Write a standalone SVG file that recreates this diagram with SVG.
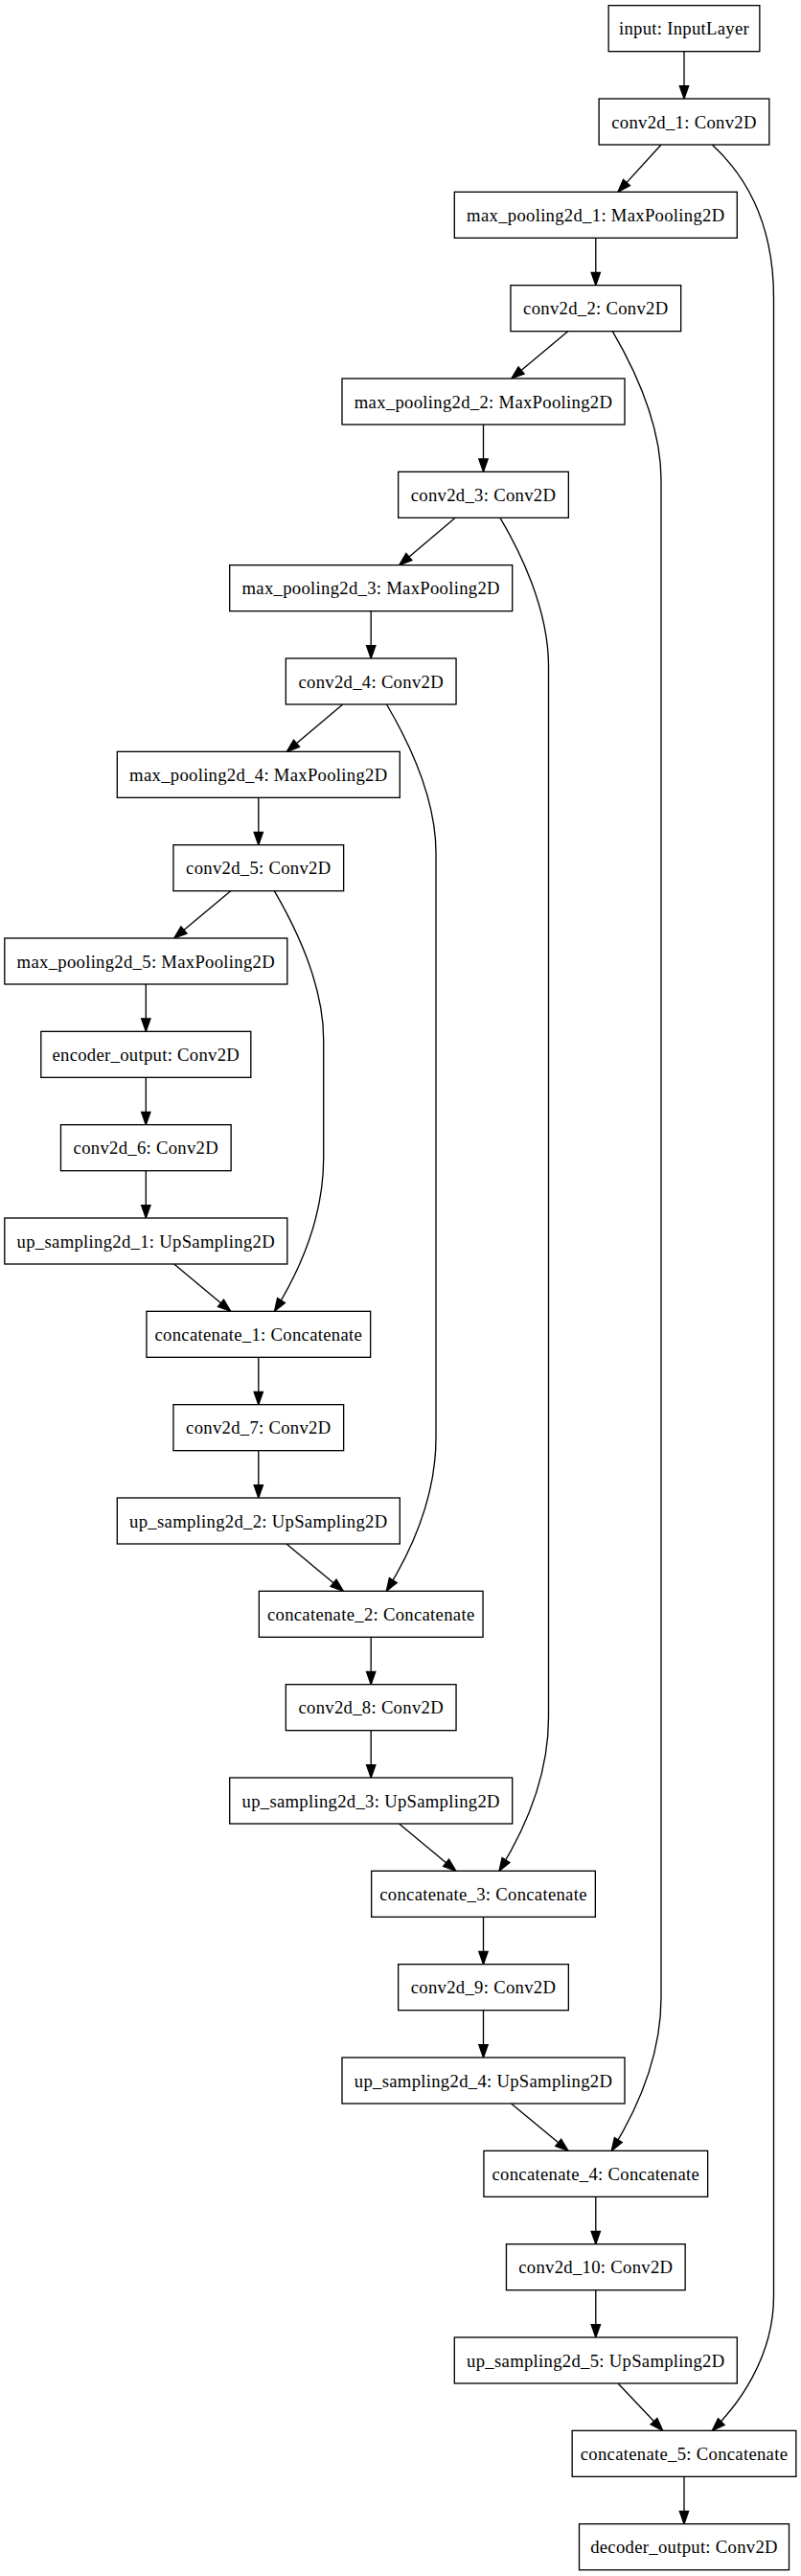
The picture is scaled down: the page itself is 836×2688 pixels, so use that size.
<svg xmlns="http://www.w3.org/2000/svg" width="836" height="2688" viewBox="0 0 836 2688">
<style>
.n rect{fill:#fff;stroke:#000;stroke-width:1.33}
.n text{font-family:"Liberation Serif","Times New Roman",serif;font-size:18.67px;letter-spacing:0.3px;text-anchor:middle;fill:#000}
.e path{fill:none;stroke:#000;stroke-width:1.33;marker-end:url(#ah)}
</style>
<defs>
<marker id="ah" markerUnits="userSpaceOnUse" markerWidth="18" markerHeight="14" viewBox="-2 -7 18 14" refX="13.33" refY="0" orient="auto" overflow="visible">
<path d="M0,-4.67 L13.33,0 L0,4.67 Z" fill="#000" stroke="#000" stroke-width="1.33"/>
</marker>
</defs>
<rect x="0" y="0" width="836" height="2688" fill="#fff"/>
<g id="edges" class="e">
<path d="M714,53.67 L714,103"/>
<path d="M690,151 L645,200.33"/>
<path d="M621.8,248.33 L621.8,297.67"/>
<path d="M592.7,345.67 L533.8,395"/>
<path d="M504.5,443 L504.5,492.33"/>
<path d="M475.2,540.33 L416.7,589.67"/>
<path d="M387.2,637.67 L387.2,687"/>
<path d="M357.7,735 L299.3,784.33"/>
<path d="M269.8,832.33 L269.8,881.67"/>
<path d="M240.7,929.67 L181.7,979"/>
<path d="M152.3,1027 L152.3,1076.33"/>
<path d="M152.3,1124.33 L152.3,1173.67"/>
<path d="M152.3,1221.67 L152.3,1271"/>
<path d="M181.7,1319 L240.7,1368.33"/>
<path d="M269.8,1416.33 L269.8,1465.67"/>
<path d="M269.8,1513.67 L269.8,1563"/>
<path d="M299,1611 L358.3,1660.33"/>
<path d="M387.2,1708.33 L387.2,1757.67"/>
<path d="M387.2,1805.67 L387.2,1855"/>
<path d="M416.5,1903 L475.8,1952.33"/>
<path d="M504.5,2000.33 L504.5,2049.67"/>
<path d="M504.5,2097.67 L504.5,2147"/>
<path d="M533.5,2195 L593,2244.33"/>
<path d="M621.8,2292.33 L621.8,2341.67"/>
<path d="M621.8,2389.67 L621.8,2439"/>
<path d="M645,2487 L691.7,2536.33"/>
<path d="M714,2584.33 L714,2633.67"/>
<path d="M743.3,151 C781.3,186 807.5,236 807.5,311 L807.5,2396.3 C807.5,2460 770,2510 743.3,2536.33"/>
<path d="M639.3,345.67 C659.3,380 690,441 690,501 L690,2084.3 C690,2144.3 666.3,2199.3 638.3,2244.33"/>
<path d="M522,540.33 C542,574 572.5,635 572.5,695 L572.5,1792.3 C572.5,1852.3 549,1907.3 521,1952.33"/>
<path d="M403.5,735 C423.5,769 455,830 455,890 L455,1500.3 C455,1560.3 431.3,1615.3 403.3,1660.33"/>
<path d="M286.3,929.67 C306.3,964 337.7,1025 337.7,1085 L337.7,1208.3 C337.7,1268.3 314.5,1323.3 286.5,1368.33"/>
</g>
<g id="input" class="n"><rect x="635.15" y="5.67" width="157.7" height="48"/><text x="714" y="36.2">input: InputLayer</text></g>
<g id="conv2d_1" class="n"><rect x="625.15" y="103" width="177.7" height="48"/><text x="714" y="133.5">conv2d_1: Conv2D</text></g>
<g id="max_pooling2d_1" class="n"><rect x="474.3" y="200.33" width="295" height="48"/><text x="621.8" y="230.8">max_pooling2d_1: MaxPooling2D</text></g>
<g id="conv2d_2" class="n"><rect x="532.95" y="297.67" width="177.7" height="48"/><text x="621.8" y="328.2">conv2d_2: Conv2D</text></g>
<g id="max_pooling2d_2" class="n"><rect x="357" y="395" width="295" height="48"/><text x="504.5" y="425.5">max_pooling2d_2: MaxPooling2D</text></g>
<g id="conv2d_3" class="n"><rect x="415.65" y="492.33" width="177.7" height="48"/><text x="504.5" y="522.8">conv2d_3: Conv2D</text></g>
<g id="max_pooling2d_3" class="n"><rect x="239.7" y="589.67" width="295" height="48"/><text x="387.2" y="620.2">max_pooling2d_3: MaxPooling2D</text></g>
<g id="conv2d_4" class="n"><rect x="298.35" y="687" width="177.7" height="48"/><text x="387.2" y="717.5">conv2d_4: Conv2D</text></g>
<g id="max_pooling2d_4" class="n"><rect x="122.3" y="784.33" width="295" height="48"/><text x="269.8" y="814.8">max_pooling2d_4: MaxPooling2D</text></g>
<g id="conv2d_5" class="n"><rect x="180.95" y="881.67" width="177.7" height="48"/><text x="269.8" y="912.2">conv2d_5: Conv2D</text></g>
<g id="max_pooling2d_5" class="n"><rect x="4.8" y="979" width="295" height="48"/><text x="152.3" y="1009.5">max_pooling2d_5: MaxPooling2D</text></g>
<g id="encoder_output" class="n"><rect x="42.8" y="1076.33" width="219" height="48"/><text x="152.3" y="1106.8">encoder_output: Conv2D</text></g>
<g id="conv2d_6" class="n"><rect x="63.45" y="1173.67" width="177.7" height="48"/><text x="152.3" y="1204.2">conv2d_6: Conv2D</text></g>
<g id="up_sampling2d_1" class="n"><rect x="4.8" y="1271" width="295" height="48"/><text x="152.3" y="1301.5">up_sampling2d_1: UpSampling2D</text></g>
<g id="concatenate_1" class="n"><rect x="152.95" y="1368.33" width="233.7" height="48"/><text x="269.8" y="1398.8">concatenate_1: Concatenate</text></g>
<g id="conv2d_7" class="n"><rect x="180.95" y="1465.67" width="177.7" height="48"/><text x="269.8" y="1496.2">conv2d_7: Conv2D</text></g>
<g id="up_sampling2d_2" class="n"><rect x="122.3" y="1563" width="295" height="48"/><text x="269.8" y="1593.5">up_sampling2d_2: UpSampling2D</text></g>
<g id="concatenate_2" class="n"><rect x="270.35" y="1660.33" width="233.7" height="48"/><text x="387.2" y="1690.8">concatenate_2: Concatenate</text></g>
<g id="conv2d_8" class="n"><rect x="298.35" y="1757.67" width="177.7" height="48"/><text x="387.2" y="1788.2">conv2d_8: Conv2D</text></g>
<g id="up_sampling2d_3" class="n"><rect x="239.7" y="1855" width="295" height="48"/><text x="387.2" y="1885.5">up_sampling2d_3: UpSampling2D</text></g>
<g id="concatenate_3" class="n"><rect x="387.65" y="1952.33" width="233.7" height="48"/><text x="504.5" y="1982.8">concatenate_3: Concatenate</text></g>
<g id="conv2d_9" class="n"><rect x="415.65" y="2049.67" width="177.7" height="48"/><text x="504.5" y="2080.2">conv2d_9: Conv2D</text></g>
<g id="up_sampling2d_4" class="n"><rect x="357" y="2147" width="295" height="48"/><text x="504.5" y="2177.5">up_sampling2d_4: UpSampling2D</text></g>
<g id="concatenate_4" class="n"><rect x="504.95" y="2244.33" width="233.7" height="48"/><text x="621.8" y="2274.8">concatenate_4: Concatenate</text></g>
<g id="conv2d_10" class="n"><rect x="528.45" y="2341.67" width="186.7" height="48"/><text x="621.8" y="2372.2">conv2d_10: Conv2D</text></g>
<g id="up_sampling2d_5" class="n"><rect x="474.3" y="2439" width="295" height="48"/><text x="621.8" y="2469.5">up_sampling2d_5: UpSampling2D</text></g>
<g id="concatenate_5" class="n"><rect x="597.15" y="2536.33" width="233.7" height="48"/><text x="714" y="2566.8">concatenate_5: Concatenate</text></g>
<g id="decoder_output" class="n"><rect x="604.5" y="2633.67" width="219" height="48"/><text x="714" y="2664.2">decoder_output: Conv2D</text></g>
</svg>
